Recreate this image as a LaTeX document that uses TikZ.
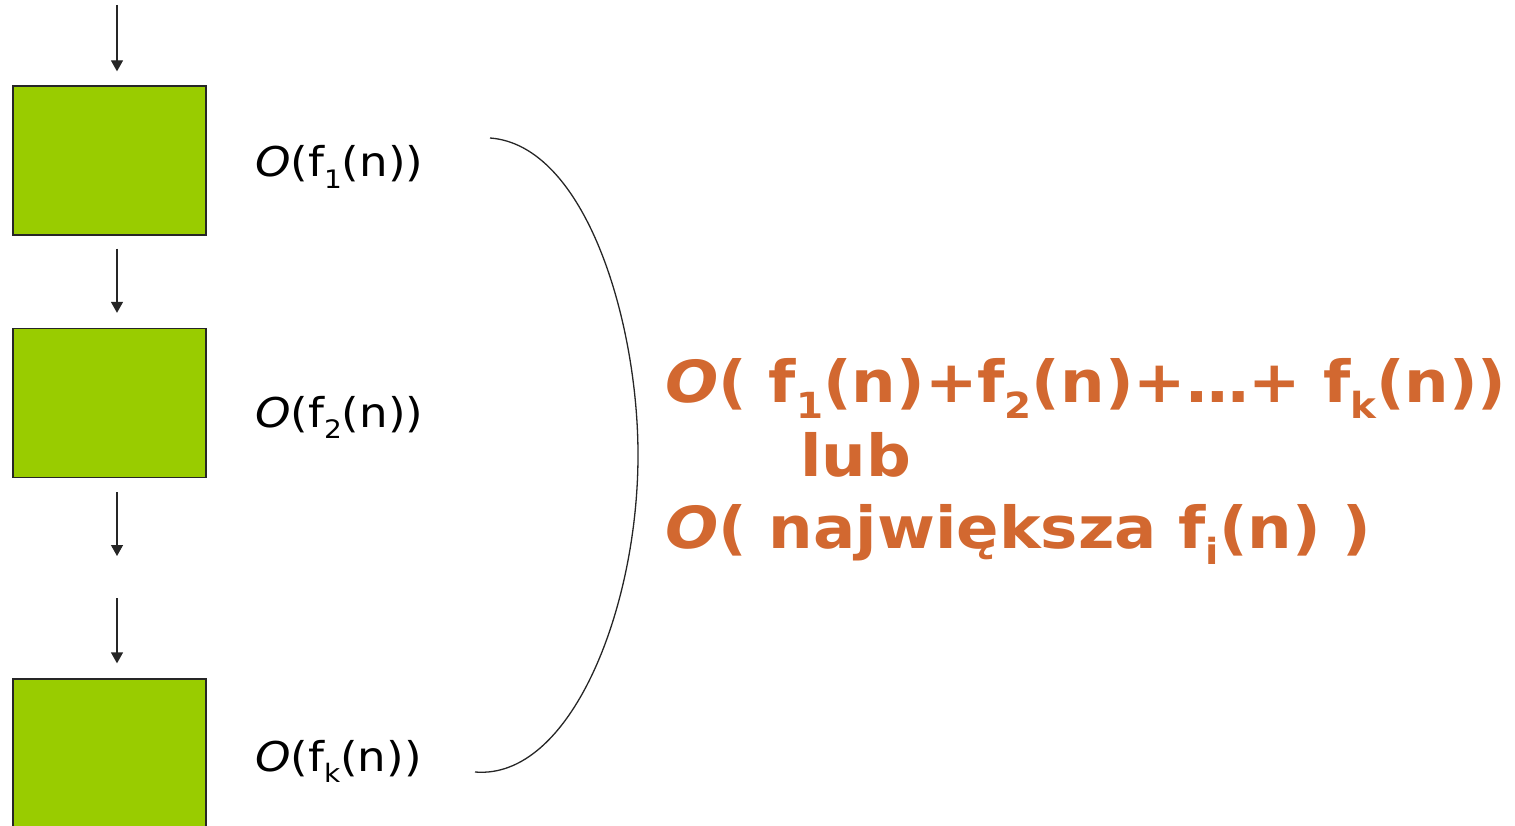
\documentclass[tikz,border=0pt]{standalone}
\usepackage{fontspec}
\setmainfont{DejaVu Sans}
\newfontfamily\costfont[FakeStretch=1.1]{DejaVu Sans}
\newfontfamily\totalfont[FakeStretch=1.08]{DejaVu Sans}
\usetikzlibrary{arrows.meta}
\definecolor{boxgreen}{RGB}{153,204,0}
\definecolor{rust}{RGB}{210,104,48}
\newcommand\lowsub[1]{\raisebox{-0.28em}{\scalebox{0.62}{#1}}}
\tikzset{
  stage/.style={draw=black!85, line width=1.3pt, fill=boxgreen, minimum width=193pt, minimum height=149pt, inner sep=0pt},
  flow/.style={draw=black!85, line width=1.3pt, -{Triangle[width=12pt,length=11pt]}},
  cost/.style={font=\costfont\fontsize{41}{49}\selectfont, anchor=base west, inner sep=0pt},
  total/.style={font=\totalfont\fontsize{58}{70}\selectfont\bfseries, text=rust, anchor=base west, inner sep=0pt},
}
\begin{document}
\begin{tikzpicture}[x=1pt,y=-1pt]
\useasboundingbox (0,0) rectangle (1515,826);
\node[stage] (b1) at (109.5,160.5) {};
\node[stage] (b2) at (109.5,403) {};
\node[stage, minimum height=148pt] (b3) at (109.5,753) {};
\coordinate (top) at (117,5);
\coordinate (e3) at (117,556);
\coordinate (s4) at (117,598);
\draw[flow, shorten >=14pt] (top) -- (top |- b1.north);
\draw[flow, shorten <=13pt, shorten >=15pt] (b1.south -| top) -- (b2.north -| top);
\draw[flow, shorten <=14pt] (b2.south -| top) -- (e3);
\draw[flow, shorten >=15pt] (s4) -- (b3.north -| s4);
\node[cost] (l1) at (255,177) {\textit{O}(f\lowsub{1}(n))};
\node[cost] (l2) at (255,427) {\textit{O}(f\lowsub{2}(n))};
\node[cost] (l3) at (255,771) {\textit{O}(f\lowsub{k}(n))};
\coordinate (ctop) at (490,138);
\coordinate (cmid) at (638,455);
\coordinate (cbot) at (475,772);
\draw[black!85, line width=1.3pt] (ctop) .. controls (585,145) and (638,320) .. (cmid) .. controls (638,610) and (570,780) .. (cbot);
\node[total] (t1) at (665,402) {\textit{O}( f\lowsub{1}(n)+f\lowsub{2}(n)+…+ f\lowsub{k}(n))};
\node[total] (t2) at (800,476) {lub};
\node[total] (t3) at (665,548) {\textit{O}( największa f\lowsub{i}(n) )};
\end{tikzpicture}
\end{document}
